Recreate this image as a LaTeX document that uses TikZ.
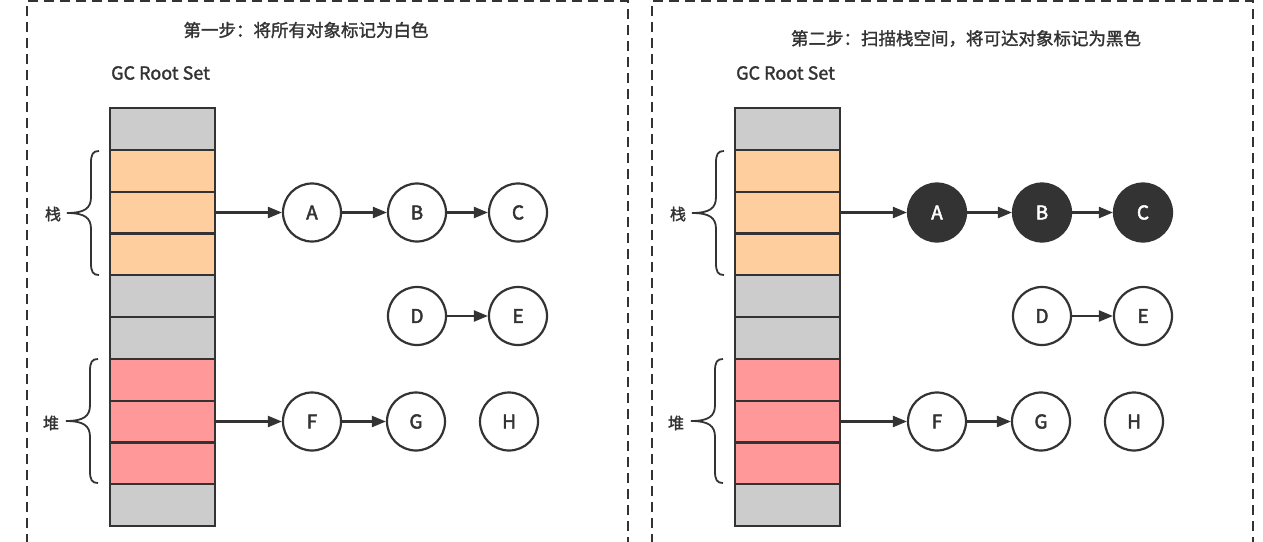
\documentclass[tikz,border=0pt]{standalone}
\usepackage{fontspec}
\newfontfamily\cjk{Noto Sans CJK SC}[FakeBold=1.6]
\newfontfamily\cjkb{Noto Sans CJK SC}[FakeBold=2.4]
\usetikzlibrary{arrows.meta}
\definecolor{cellgray}{HTML}{CCCCCC}
\definecolor{cellorange}{HTML}{FFCE9F}
\definecolor{cellred}{HTML}{FF9999}
\definecolor{ink}{HTML}{333333}
\tikzset{
  cell/.style={draw=ink, line width=2.2pt, minimum width=105pt, minimum height=41.8pt, inner sep=0pt, outer sep=0pt, anchor=north west},
  obj/.style={circle, draw=ink, line width=2.2pt, minimum size=58pt, inner sep=0pt, font=\cjkb\fontsize{19}{19}\selectfont, text=ink},
  objwhite/.style={obj, fill=white},
  objblack/.style={obj, fill=ink, text=white},
  refarrow/.style={-{Triangle[length=14pt,width=11pt]}, draw=ink, line width=2.2pt},
  panel/.style={draw=ink, line width=2.2pt, dash pattern=on 10pt off 6pt},
  bracestyle/.style={draw=ink, line width=1.8pt},
  titletext/.style={font=\cjk\fontsize{17.5}{18}\selectfont, text=ink},
  rootlabel/.style={font=\cjk\fontsize{18}{18}\selectfont, text=ink, anchor=west, inner sep=0pt},
  sidelabel/.style={font=\cjk\fontsize{16}{16}\selectfont, text=ink},
  pics/curly/.style={code={
    \draw[bracestyle] (0,-62) .. controls (-6,-62) and (-8,-59) .. (-8,-50) -- (-8,-16)
      .. controls (-8,-5) and (-14,0) .. (-32,0)
      .. controls (-14,0) and (-8,5) .. (-8,16) -- (-8,50)
      .. controls (-8,59) and (-6,62) .. (0,62);
  }}
}
% #1 prefix, #2 x shift, #3 title, #4 title x, #5 title y, #6 style of A,B,C
\newcommand\gcpanel[6]{%
  \begin{scope}[shift={(#2,0)}, name prefix=#1-]
    \draw[panel] (27,560) -- (27,1) -- (628,1) -- (628,560);
    \node[titletext] (title) at (#4,#5) {#3};
    \node[rootlabel] (root) at (111,73) {GC Root Set};
    \foreach \i/\c in {1/cellgray,2/cellorange,3/cellorange,4/cellorange,5/cellgray,6/cellgray,7/cellred,8/cellred,9/cellred,10/cellgray}
      \node[cell, fill=\c] (c\i) at (110,{108+(\i-1)*41.8}) {};
    \pic at (99,213) {curly};
    \pic at (98,421) {curly};
    \node[sidelabel] (stacklabel) at (53,214) {栈};
    \node[sidelabel] (heaplabel) at (51,423) {堆};
    \node[#6] (A) at (312,212.5) {A};
    \node[#6] (B) at (417,212.5) {B};
    \node[#6] (C) at (518,212.5) {C};
    \node[objwhite] (D) at (417,316) {D};
    \node[objwhite] (E) at (518,316) {E};
    \node[objwhite] (F) at (312,421.5) {F};
    \node[objwhite] (G) at (416,421.5) {G};
    \node[objwhite] (H) at (509,421.5) {H};
    \draw[refarrow] (c3.east) -- (A);
    \draw[refarrow] (A) -- (B);
    \draw[refarrow] (B) -- (C);
    \draw[refarrow] (D) -- (E);
    \draw[refarrow] (c8.east) -- (F);
    \draw[refarrow] (F) -- (G);
  \end{scope}%
}
\begin{document}
\begin{tikzpicture}[x=1pt, y=-1pt]
  \clip (0,0) rectangle (1263,541);
  \fill[white] (0,0) rectangle (1263,541);
  \gcpanel{L}{0}{第一步：将所有对象标记为白色}{306}{30}{objwhite}
  \gcpanel{R}{625}{第二步：扫描栈空间，将可达对象标记为黑色}{341}{38.5}{objblack}
\end{tikzpicture}
\end{document}
